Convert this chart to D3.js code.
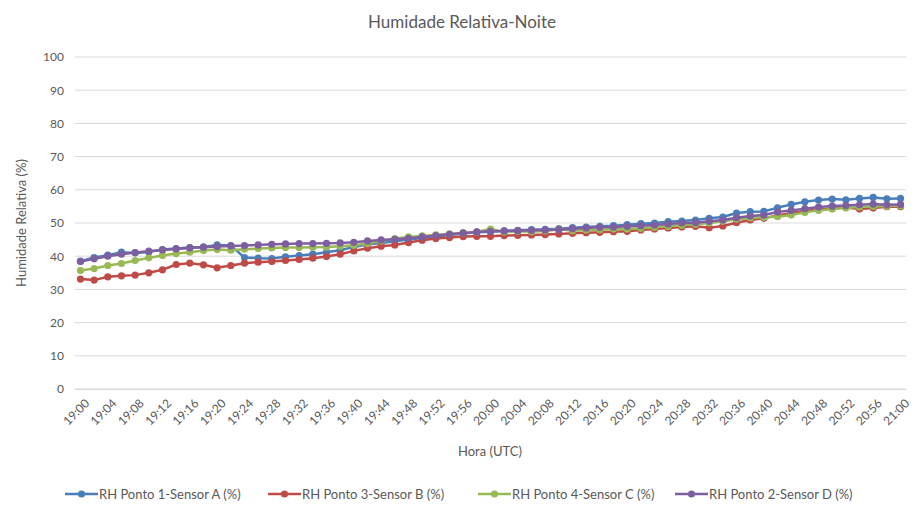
<!DOCTYPE html>
<html>
<head>
<meta charset="utf-8">
<script src="https://cdn.jsdelivr.net/npm/d3@7"></script>
<style>
  body { margin: 0; background: #fff; }
  text { font-family: Lato, "Open Sans", sans-serif; fill: #595959; }
</style>
</head>
<body>
<div id="container"><svg></svg></div>
<script>
let width = 912;
let height = 507;

// horas 19:00 a 21:00, de 2 em 2 minutos
let times = [];
for (let h = 19; h <= 21; h++) {
  for (let m = 0; m < 60; m += 2) {
    if (h == 21 && m > 0) break;
    times.push(h + ":" + (m < 10 ? "0" + m : m));
  }
}
let tickLabels = times.filter((t, i) => i % 2 == 0);

let sensorA = [38.5, 39.6, 40.3, 41.2, 41.0, 41.3, 42.0, 42.3, 42.6, 42.8, 43.4, 43.2, 39.6, 39.4, 39.3, 39.8,
  40.2, 40.6, 41.2, 41.8, 42.8, 43.5, 44.0, 44.5, 45.0, 45.5, 45.9, 46.4, 46.8, 47.2, 47.4, 47.6, 47.8, 48.0,
  48.1, 48.3, 48.6, 48.8, 49.0, 49.2, 49.5, 49.8, 50.0, 50.4, 50.6, 50.9, 51.4, 51.8, 53.0, 53.4, 53.5, 54.6,
  55.6, 56.4, 56.9, 57.2, 57.0, 57.4, 57.7, 57.3, 57.4];
let sensorB = [33.1, 32.8, 33.8, 34.1, 34.3, 35.0, 35.9, 37.5, 37.9, 37.4, 36.5, 37.2, 37.9, 38.2, 38.4, 38.7,
  39.0, 39.4, 39.9, 40.6, 41.6, 42.4, 43.0, 43.4, 44.1, 44.8, 45.3, 45.6, 45.9, 46.0, 46.0, 46.2, 46.3, 46.4,
  46.5, 46.7, 46.9, 47.1, 47.2, 47.4, 47.5, 47.9, 48.2, 48.5, 48.8, 49.0, 48.6, 49.1, 50.1, 50.9, 51.4, 52.3,
  53.0, 53.6, 54.1, 54.4, 54.7, 54.2, 54.5, 54.9, 54.9];
let sensorC = [35.7, 36.3, 37.2, 37.8, 38.7, 39.5, 40.2, 40.8, 41.2, 41.7, 42.0, 41.8, 42.1, 42.3, 42.5, 42.6,
  42.6, 42.7, 42.8, 43.0, 43.3, 43.8, 44.6, 45.3, 45.8, 46.1, 46.4, 46.7, 47.0, 47.3, 48.2, 47.3, 47.5, 47.4,
  47.6, 48.2, 47.7, 47.9, 48.0, 48.2, 48.2, 48.4, 48.7, 49.0, 49.3, 49.6, 50.0, 50.5, 51.1, 51.5, 51.7, 51.9,
  52.4, 53.2, 53.8, 54.2, 54.5, 54.8, 55.0, 55.1, 55.2];
let sensorD = [38.4, 39.2, 40.0, 40.6, 41.1, 41.5, 41.9, 42.2, 42.5, 42.7, 42.9, 43.1, 43.2, 43.4, 43.6, 43.7,
  43.8, 43.8, 43.9, 44.0, 44.2, 44.6, 44.9, 45.1, 45.4, 45.8, 46.2, 46.6, 47.0, 47.3, 47.5, 47.6, 47.7, 47.8,
  47.9, 48.0, 48.3, 48.5, 48.7, 48.8, 49.0, 49.2, 49.4, 49.7, 50.0, 50.1, 50.5, 50.9, 51.6, 52.1, 52.4, 53.3,
  53.8, 54.3, 54.8, 55.1, 55.3, 55.5, 55.7, 55.5, 55.6];

let seriesNames = ["RH Ponto 1-Sensor A (%)", "RH Ponto 3-Sensor B (%)", "RH Ponto 4-Sensor C (%)", "RH Ponto 2-Sensor D (%)"];
let seriesColors = ["#4a7ebb", "#be4b48", "#98b954", "#7d5fa0"];
let yTicks = [0, 10, 20, 30, 40, 50, 60, 70, 80, 90, 100];

let series = [sensorA, sensorB, sensorC, sensorD].map((v, k) => ({
  name: seriesNames[k], color: seriesColors[k], values: v
}));

let svg = d3.select('#container').select('svg')
  .attr('width', width)
  .attr('height', height);

let x = d3.scalePoint().domain(times).range([75, 906]).padding(0.4);
let y = d3.scaleLinear().domain([0, 100]).range([389, 57]);

// titulo
svg.append("text")
  .attr("x", 462).attr("y", 28)
  .attr("text-anchor", "middle")
  .style("font-size", "17px")
  .text("Humidade Relativa-Noite");

// grelha horizontal
svg.append("g")
  .selectAll("line")
  .data(yTicks)
  .join("line")
  .attr("x1", 75).attr("x2", 906)
  .attr("y1", d => y(d)).attr("y2", d => y(d))
  .attr("stroke", "#d9d9d9")
  .attr("stroke-width", 1);

// eixo y
let yAxis = svg.append("g")
  .attr("transform", "translate(75,0)")
  .call(d3.axisLeft(y).tickValues(yTicks).tickSize(0).tickPadding(11));
yAxis.select(".domain").remove();
yAxis.selectAll("text").style("font-size", "12px").attr("fill", "#595959");

// eixo x
let xAxis = svg.append("g")
  .attr("transform", "translate(0,389)")
  .call(d3.axisBottom(x).tickValues(tickLabels).tickSize(0));
xAxis.select(".domain").attr("stroke", "#d9d9d9");
xAxis.selectAll("text")
  .style("font-size", "12px")
  .attr("fill", "#595959")
  .attr("text-anchor", "end")
  .attr("dy", "0.35em")
  .attr("transform", "translate(4,10) rotate(-45)");

// titulos dos eixos
svg.append("text")
  .attr("x", 490).attr("y", 456)
  .attr("text-anchor", "middle")
  .style("font-size", "13px")
  .text("Hora (UTC)");
svg.append("text")
  .attr("transform", "translate(26,223) rotate(-90)")
  .attr("text-anchor", "middle")
  .style("font-size", "13px")
  .text("Humidade Relativa (%)");

// linhas
let line = d3.line()
  .x((d, i) => x(times[i]))
  .y(d => y(d));

let sg = svg.append("g")
  .selectAll("g")
  .data(series)
  .join("g");

sg.append("path")
  .attr("d", d => line(d.values))
  .attr("fill", "none")
  .attr("stroke", d => d.color)
  .attr("stroke-width", 2.5)
  .attr("stroke-linejoin", "round");

sg.each(function (s) {
  d3.select(this).selectAll("circle")
    .data(s.values)
    .join("circle")
    .attr("cx", (d, i) => x(times[i]))
    .attr("cy", d => y(d))
    .attr("r", 3.6)
    .attr("fill", s.color);
});

// legenda
let legendX = [65, 268, 478, 675];
let lg = svg.append("g")
  .selectAll("g")
  .data(series)
  .join("g")
  .attr("transform", (d, i) => "translate(" + legendX[i] + ",494)");
lg.append("line")
  .attr("x1", 0).attr("x2", 33)
  .attr("stroke", d => d.color)
  .attr("stroke-width", 2.5);
lg.append("circle")
  .attr("cx", 16.5).attr("r", 3.6)
  .attr("fill", d => d.color);
lg.append("text")
  .attr("x", 34).attr("dy", "0.35em")
  .style("font-size", "13px")
  .text(d => d.name);
</script>
</body>
</html>
